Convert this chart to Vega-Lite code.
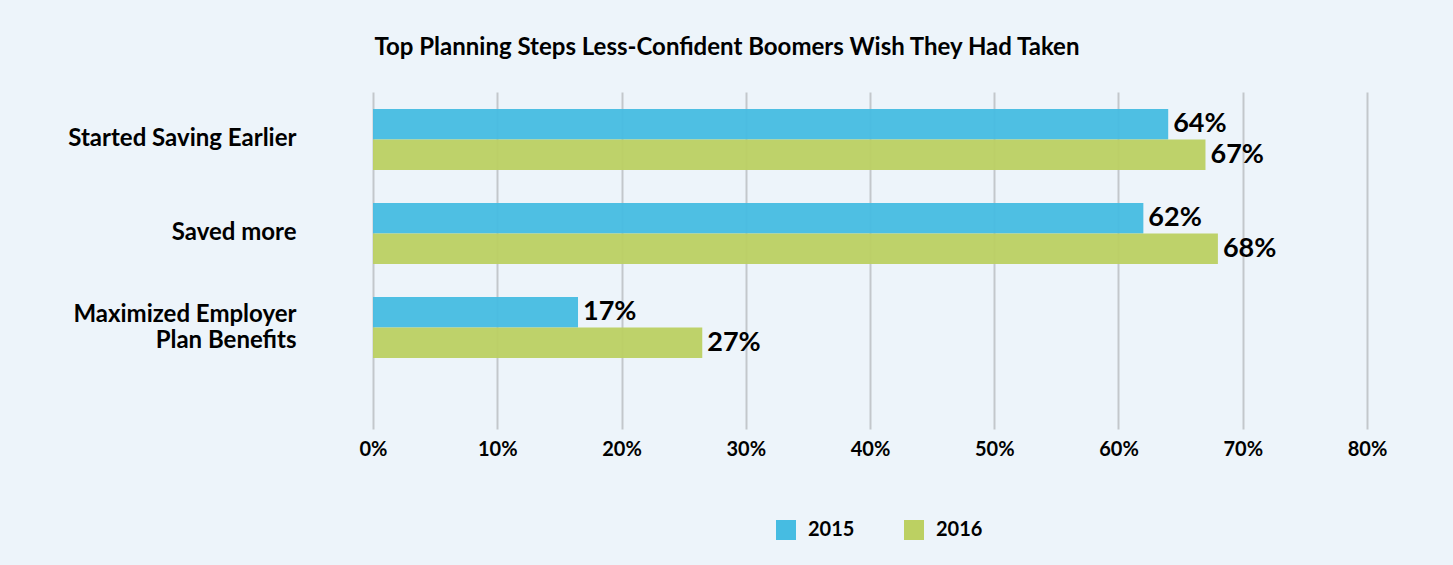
{
  "$schema": "https://vega.github.io/schema/vega-lite/v6.json",
  "autosize": {"type": "none"},
  "width": 994,
  "height": 337,
  "padding": {"left": 373, "top": 92, "right": 86, "bottom": 136},
  "background": "#EDF4FA",
  "title": {
    "text": "Top Planning Steps Less-Confident Boomers Wish They Had Taken",
    "anchor": "middle",
    "frame": "group",
    "dx": -143,
    "offset": 32,
    "font": "Lato",
    "fontSize": 24,
    "fontWeight": "bold",
    "color": "#000000"
  },
  "data": {
    "values": [
      {"step": "Started Saving Earlier", "year": "2015", "value": 0.64, "label": "64%"},
      {"step": "Started Saving Earlier", "year": "2016", "value": 0.67, "label": "67%"},
      {"step": "Saved more", "year": "2015", "value": 0.62, "label": "62%"},
      {"step": "Saved more", "year": "2016", "value": 0.68, "label": "68%"},
      {"step": "Maximized Employer Plan Benefits", "year": "2015", "value": 0.165, "label": "17%"},
      {"step": "Maximized Employer Plan Benefits", "year": "2016", "value": 0.265, "label": "27%"}
    ]
  },
  "encoding": {
    "y": {
      "field": "step",
      "type": "nominal",
      "sort": null,
      "scale": {"paddingInner": 0.351, "paddingOuter": 0.468, "align": 0.193},
      "axis": {
        "title": null,
        "domain": false,
        "ticks": false,
        "labelPadding": 77,
        "labelFont": "Lato",
        "labelFontSize": 24,
        "labelFontWeight": "bold",
        "labelColor": "#000000",
        "labelLineHeight": 26,
        "labelLimit": 400,
        "labelOffset": {"condition": {"test": "datum.value == 'Maximized Employer Plan Benefits'", "value": -12}, "value": 0},
        "labelExpr": "datum.value == 'Maximized Employer Plan Benefits' ? ['Maximized Employer', 'Plan Benefits'] : datum.label"
      }
    },
    "yOffset": {
      "field": "year",
      "type": "nominal",
      "scale": {"paddingInner": 0, "paddingOuter": 0}
    },
    "x": {
      "field": "value",
      "type": "quantitative",
      "scale": {"domain": [0, 0.8], "nice": false},
      "axis": {
        "title": null,
        "format": ".0%",
        "values": [0, 0.1, 0.2, 0.3, 0.4, 0.5, 0.6, 0.7, 0.8],
        "labelOverlap": false,
        "domain": false,
        "ticks": false,
        "grid": true,
        "gridColor": "#C3C7CB",
        "gridWidth": 2,
        "labelPadding": 10,
        "labelFont": "Lato",
        "labelFontSize": 20,
        "labelFontWeight": "bold",
        "labelColor": "#000000",
        "labelFlush": false
      }
    }
  },
  "layer": [
    {
      "mark": {"type": "bar", "opacity": 0.95},
      "encoding": {
        "color": {
          "field": "year",
          "type": "nominal",
          "scale": {"domain": ["2015", "2016"], "range": ["#46BCE2", "#BCD062"]},
          "legend": {
            "title": null,
            "orient": "none",
            "direction": "horizontal",
            "legendX": 402,
            "legendY": 427,
            "symbolType": "square",
            "symbolSize": 400,
            "symbolOpacity": 1,
            "labelFont": "Lato",
            "labelFontSize": 20,
            "labelFontWeight": "bold",
            "labelColor": "#000000",
            "labelOffset": 11,
            "columnPadding": 48
          }
        }
      }
    },
    {
      "mark": {"type": "text", "align": "left", "baseline": "middle", "dx": 5, "font": "Lato", "fontSize": 27, "fontWeight": "bold", "color": "#000000"},
      "encoding": {
        "text": {"field": "label"}
      }
    }
  ],
  "config": {
    "view": {"stroke": null}
  }
}
